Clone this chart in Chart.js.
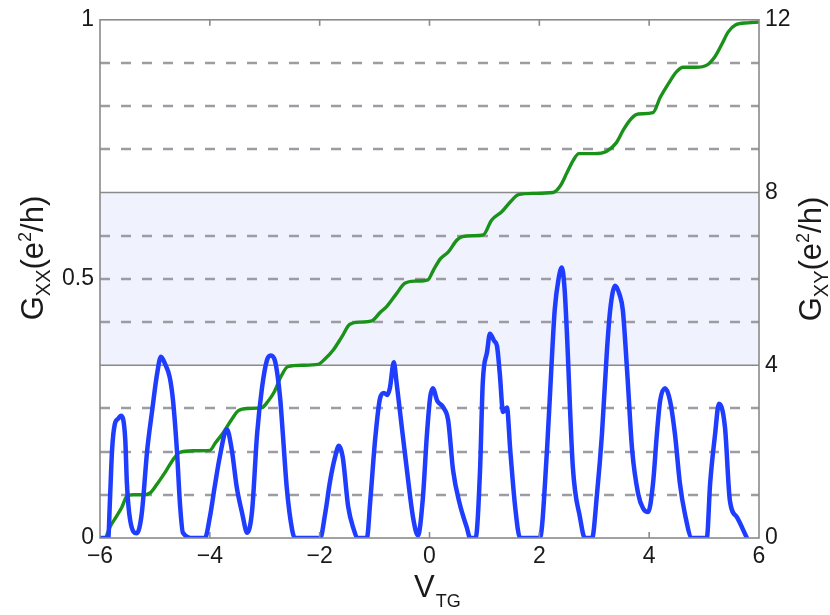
<!DOCTYPE html>
<html><head><meta charset="utf-8">
<script src="https://cdn.jsdelivr.net/npm/chart.js@4"></script>
<style>html,body{margin:0;padding:0;background:#fff}#wrap{width:830px;height:615px;position:relative}</style>
</head><body><div id="wrap"><canvas id="c"></canvas></div>
<script>
// G_xy (right axis, e^2/h) vs V_TG
const gxyV = [-5.88,-5.82,-5.7,-5.6,-5.51,-5.4,-5.2,-5.08,-4.96,-4.8,-4.65,-4.55,-4.3,-4.0,-3.9,-3.75,-3.6,-3.48,-3.3,-3.05,-2.95,-2.82,-2.7,-2.58,-2.3,-2.03,-1.9,-1.76,-1.6,-1.45,-1.25,-1.05,-0.9,-0.78,-0.6,-0.45,-0.25,-0.03,0.07,0.2,0.34,0.5,0.6,0.8,0.98,1.13,1.32,1.47,1.62,1.9,2.25,2.38,2.5,2.62,2.72,3.0,3.22,3.4,3.53,3.68,3.8,4.07,4.2,4.35,4.5,4.62,4.85,5.05,5.2,5.33,5.44,5.57,5.8,6.0];
const gxy  = [0.05,0.25,0.5,0.72,0.97,1.0,1.0,1.05,1.25,1.55,1.85,1.98,2.02,2.03,2.2,2.45,2.75,2.95,3.0,3.02,3.15,3.4,3.75,3.97,4.0,4.02,4.15,4.34,4.65,4.95,5.0,5.03,5.22,5.36,5.66,5.9,5.95,5.98,6.2,6.47,6.62,6.9,6.98,7.0,7.02,7.36,7.56,7.78,7.95,7.98,8.0,8.15,8.45,8.75,8.9,8.9,8.95,9.15,9.45,9.72,9.82,9.85,10.2,10.52,10.8,10.9,10.9,10.95,11.15,11.45,11.72,11.88,11.93,11.95];

// G_xx (left axis, e^2/h) vs V_TG
const gxxV = [-6.0,-5.85,-5.82,-5.78,-5.73,-5.67,-5.62,-5.54,-5.51,-5.45,-5.33,-5.24,-5.14,-5.05,-4.96,-4.89,-4.82,-4.73,-4.67,-4.6,-4.54,-4.49,-4.3,-4.09,-4.0,-3.91,-3.82,-3.69,-3.6,-3.51,-3.41,-3.32,-3.23,-3.14,-3.05,-2.96,-2.89,-2.81,-2.72,-2.67,-2.6,-2.5,-2.45,-2.2,-1.99,-1.9,-1.81,-1.72,-1.65,-1.58,-1.48,-1.39,-1.3,-1.14,-1.08,-0.99,-0.9,-0.83,-0.77,-0.72,-0.65,-0.6,-0.54,-0.41,-0.3,-0.21,-0.12,-0.05,0.01,0.06,0.14,0.25,0.34,0.43,0.55,0.68,0.74,0.84,0.92,0.97,1.05,1.1,1.18,1.23,1.28,1.34,1.41,1.47,1.56,1.65,2.01,2.14,2.22,2.28,2.35,2.41,2.46,2.5,2.61,2.74,2.83,2.96,3.05,3.14,3.23,3.29,3.38,3.46,3.52,3.6,3.69,3.8,3.89,3.98,4.07,4.14,4.2,4.29,4.38,4.47,4.56,4.65,4.78,5.05,5.11,5.2,5.27,5.38,5.47,5.6,5.78];
const gxx  = [0,0,0.07,0.17,0.22,0.23,0.236,0.19,0.105,0.034,0.009,0.047,0.17,0.246,0.317,0.35,0.337,0.31,0.265,0.17,0.06,0.01,0,0,0.04,0.1,0.156,0.21,0.17,0.098,0.047,0.01,0.053,0.2,0.29,0.343,0.352,0.34,0.27,0.2,0.098,0.015,0,0,0,0.047,0.11,0.156,0.178,0.156,0.06,0.02,0,0,0.07,0.19,0.27,0.28,0.276,0.29,0.339,0.3,0.246,0.13,0.04,0.005,0.078,0.195,0.27,0.289,0.265,0.252,0.227,0.13,0.066,0.02,0,0,0.13,0.3,0.36,0.394,0.38,0.37,0.317,0.243,0.252,0.17,0.06,0,0,0.17,0.33,0.44,0.5,0.522,0.48,0.4,0.137,0.04,0,0,0.085,0.2,0.36,0.44,0.487,0.47,0.44,0.32,0.17,0.085,0.057,0.05,0.105,0.2,0.265,0.289,0.265,0.2,0.105,0.047,0,0,0.105,0.2,0.259,0.214,0.072,0.04,0];

const xTicks = [-6,-4,-2,0,2,4,6];
const leftTicks = [0,0.5,1];
const rightTicks = [0,4,8,12];
const dashedLevels = [1,2,3,5,6,7,9,10,11];
const solidLevels = [4,8];
const bandRange = [4,8];

const FAM = "'Liberation Sans', Arial, sans-serif";
const TICKFONT = {family:FAM, size:23};

function drawRich(ctx, parts, cx, cy, rot){
  ctx.save();
  ctx.translate(cx, cy);
  ctx.rotate(rot);
  let total = 0;
  parts.forEach(p => { ctx.font = p.size + 'px ' + FAM; p.w = ctx.measureText(p.t).width; total += p.w; });
  let x = -total/2;
  ctx.fillStyle = '#1a1a1a';
  ctx.textBaseline = 'alphabetic';
  ctx.textAlign = 'left';
  parts.forEach(p => { ctx.font = p.size + 'px ' + FAM; ctx.fillText(p.t, x, p.dy); x += p.w; });
  ctx.restore();
}

const deco = {
  id:'deco',
  beforeDatasetsDraw(chart){
    const {ctx, chartArea:a, scales} = chart;
    const yR = scales.yR;
    ctx.save();
    const yb1 = yR.getPixelForValue(bandRange[0]), yb2 = yR.getPixelForValue(bandRange[1]);
    ctx.fillStyle = '#f0f2fd';
    ctx.fillRect(a.left, yb2, a.right - a.left, yb1 - yb2);
    ctx.strokeStyle = '#9c9ca2';
    ctx.lineWidth = 2.4;
    ctx.setLineDash([10,11]);
    dashedLevels.forEach(v => {
      const y = Math.round(yR.getPixelForValue(v));
      ctx.beginPath(); ctx.moveTo(a.left, y); ctx.lineTo(a.right, y); ctx.stroke();
    });
    ctx.setLineDash([]);
    ctx.strokeStyle = '#8a8a8a';
    ctx.lineWidth = 1.6;
    solidLevels.forEach(v => {
      const y = yR.getPixelForValue(v);
      ctx.beginPath(); ctx.moveTo(a.left, y); ctx.lineTo(a.right, y); ctx.stroke();
    });
    ctx.restore();
  },
  afterDatasetsDraw(chart){
    const {ctx, chartArea:a, scales} = chart;
    ctx.save();
    ctx.strokeStyle = '#8a8a8a';
    ctx.lineWidth = 1.6;
    ctx.strokeRect(a.left, a.top, a.right - a.left, a.bottom - a.top);
    xTicks.slice(1,-1).forEach(v => {
      const x = scales.x.getPixelForValue(v);
      ctx.beginPath(); ctx.moveTo(x, a.bottom); ctx.lineTo(x, a.bottom - 6); ctx.stroke();
      ctx.beginPath(); ctx.moveTo(x, a.top); ctx.lineTo(x, a.top + 6); ctx.stroke();
    });
    ctx.restore();
  },
  afterDraw(chart){
    const ctx = chart.ctx;
    drawRich(ctx, [
      {t:'G', size:31, dy:0},{t:'XX', size:20, dy:7},{t:'(e', size:31, dy:0},{t:'2', size:18, dy:-12},{t:'/h)', size:31, dy:0}
    ], 43, 258, -Math.PI/2);
    drawRich(ctx, [
      {t:'G', size:31, dy:0},{t:'XY', size:20, dy:7},{t:'(e', size:31, dy:0},{t:'2', size:18, dy:-12},{t:'/h)', size:31, dy:0}
    ], 821, 259, -Math.PI/2);
    ctx.save();
    ctx.fillStyle = '#1a1a1a';
    ctx.textBaseline = 'alphabetic';
    ctx.font = '31px ' + FAM;
    ctx.fillText('V', 414, 597);
    const vw = ctx.measureText('V').width;
    ctx.font = '18px ' + FAM;
    ctx.fillText('TG', 414 + vw + 1, 607);
    ctx.restore();
  }
};

const fmtMinus = v => v < 0 ? '\u2212' + Math.abs(v) : String(v);

new Chart(document.getElementById('c'), {
  type:'line',
  data:{datasets:[
    {label:'Gxx', data:gxxV.map((x,i)=>({x, y:gxx[i]})), yAxisID:'yL', borderColor:'#1f3dff', borderWidth:4.5, pointRadius:0, cubicInterpolationMode:'monotone', fill:false, borderJoinStyle:'round', borderCapStyle:'round'},
    {label:'Gxy', data:gxyV.map((x,i)=>({x, y:gxy[i]})), yAxisID:'yR', borderColor:'#1a921a', borderWidth:3.4, pointRadius:0, cubicInterpolationMode:'monotone', fill:false, borderJoinStyle:'round', borderCapStyle:'round'}
  ]},
  options:{
    responsive:true, maintainAspectRatio:false, animation:false,
    layout:{padding:{top:19,left:0,right:0,bottom:0}},
    plugins:{legend:{display:false}, tooltip:{enabled:false}},
    scales:{
      x:{type:'linear', min:-6, max:6,
        afterBuildTicks:s=>{s.ticks = xTicks.map(v=>({value:v}));},
        ticks:{font:TICKFONT, color:'#1a1a1a', padding:5, maxRotation:0, autoSkip:false, callback:fmtMinus},
        grid:{display:false, drawTicks:false}, border:{display:false},
        afterFit:s=>{s.height = 77;}},
      yL:{type:'linear', position:'left', min:0, max:1,
        afterBuildTicks:s=>{s.ticks = leftTicks.map(v=>({value:v}));},
        ticks:{font:TICKFONT, color:'#1a1a1a', padding:6, autoSkip:false, callback:v=>String(v)},
        grid:{display:false, drawTicks:false}, border:{display:false},
        afterFit:s=>{s.width = 100;}},
      yR:{type:'linear', position:'right', min:0, max:12,
        afterBuildTicks:s=>{s.ticks = rightTicks.map(v=>({value:v}));},
        ticks:{font:TICKFONT, color:'#1a1a1a', padding:6, autoSkip:false, callback:v=>String(v)},
        grid:{display:false, drawTicks:false}, border:{display:false},
        afterFit:s=>{s.width = 71;}}
    }
  },
  plugins:[deco]
});
</script>
</body></html>
